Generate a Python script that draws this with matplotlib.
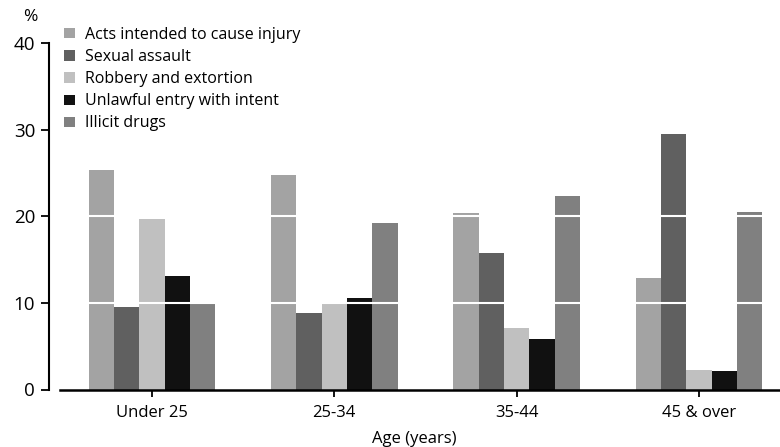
import matplotlib
matplotlib.use("Agg")
import matplotlib.pyplot as plt
import numpy as np

plt.rcParams['font.family'] = ['Open Sans', 'DejaVu Sans']

categories = ["Under 25", "25-34", "35-44", "45 & over"]
series_names = ["Acts intended to cause injury", "Sexual assault",
                "Robbery and extortion", "Unlawful entry with intent", "Illicit drugs"]
acts = [25.4, 24.8, 20.4, 12.9]
sexual = [9.5, 8.8, 15.8, 29.5]
robbery = [19.7, 9.9, 7.1, 2.3]
unlawful = [13.1, 10.6, 5.8, 2.1]
drugs = [9.9, 19.2, 22.4, 20.5]
colors = ["#a3a3a3", "#606060", "#c0c0c0", "#111111", "#808080"]
yticks = [0, 10, 20, 30, 40]

series = [acts, sexual, robbery, unlawful, drugs]

fig = plt.figure(figsize=(7.8, 4.47), dpi=100)
ax = fig.add_axes([49/780, 1 - 389.5/447, 1 - 49/780, (389.5 - 43.5)/447])

x = np.arange(len(categories))
w = 0.139
for i, (vals, c, name) in enumerate(zip(series, colors, series_names)):
    ax.bar(x + (i - 2) * w, vals, width=w, color=c, label=name, zorder=1)

for yv in yticks[1:-1]:
    ax.axhline(yv, color="white", lw=1.5, zorder=2)

ax.set_xlim(-0.565, 3.445)
ax.set_ylim(0, 40)
ax.set_yticks(yticks)
ax.set_xticks(x)
ax.set_xticklabels(categories, fontsize=12)
ax.tick_params(axis='y', labelsize=13.5, length=6, width=1.3, pad=4)
ax.tick_params(axis='x', length=5, width=1.3, pad=6.5)
for s in ["top", "right"]:
    ax.spines[s].set_visible(False)
ax.spines["left"].set_linewidth(1.5)
ax.spines["bottom"].set_linewidth(1.8)
ax.spines["bottom"].set_zorder(5)
ax.spines["bottom"].set_bounds(-0.505, 3.445)

ax.set_xlabel("Age (years)", fontsize=12, labelpad=7)
fig.text(30/780, 1 - 17/447, "%", fontsize=12.5, ha="center", va="center")

leg = ax.legend(loc="upper left", bbox_to_anchor=(0.012, 1.066), frameon=False,
                fontsize=11.5, handlelength=0.65, handleheight=0.6,
                handletextpad=0.65, labelspacing=0.38, borderaxespad=0)

fig.savefig("out.png", dpi=100)
